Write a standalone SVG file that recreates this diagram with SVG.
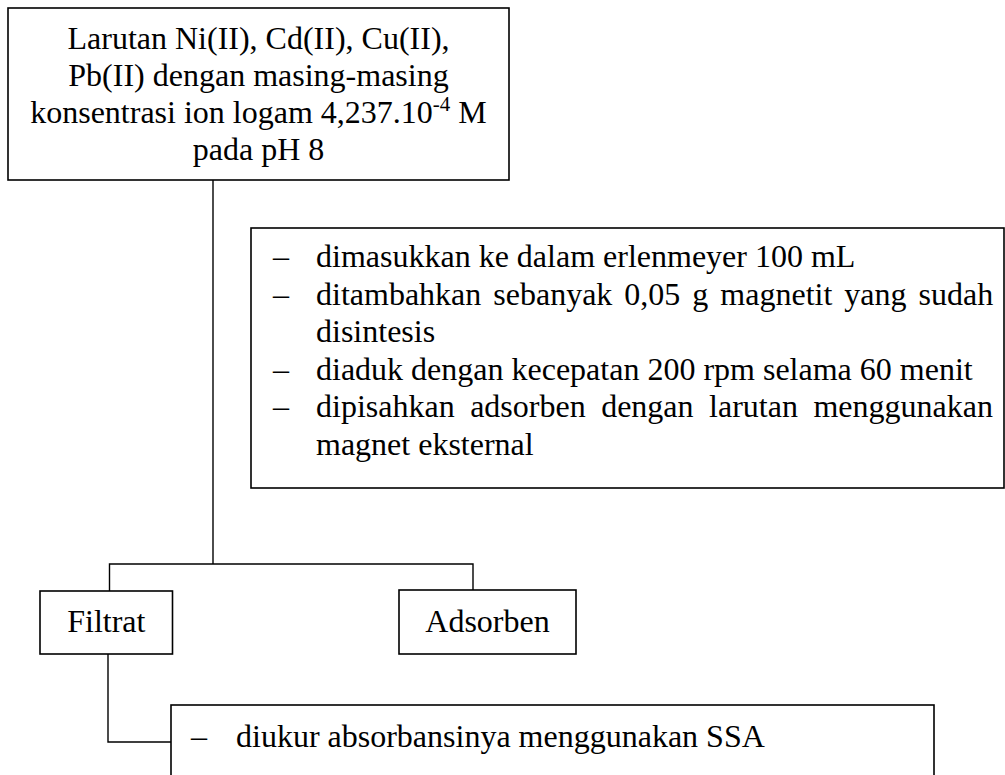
<svg xmlns="http://www.w3.org/2000/svg" width="1005" height="775" viewBox="0 0 1005 775">
  <style>
    .box { fill: #ffffff; stroke: #000000; stroke-width: 1.6; }
    .ln { fill: none; stroke: #000000; stroke-width: 1.4; }
    text { font-family: "Liberation Serif", "Times New Roman", serif; font-size: 32px; fill: #000000; }
    .c { text-anchor: middle; }
  </style>
  <rect width="1005" height="775" fill="#ffffff"/>
  <g id="connectors">
    <polyline class="ln" points="213,180 213,564"/>
    <polyline class="ln" points="109.5,591 109.5,564 473,564 473,590"/>
    <polyline class="ln" points="108,654 108,742 172,742"/>
  </g>
  <g id="node-larutan">
    <rect class="box" x="8" y="8" width="501" height="172"/>
    <text class="c" x="258.5" y="49">Larutan Ni(II), Cd(II), Cu(II),</text>
    <text class="c" x="258.5" y="86">Pb(II) dengan masing-masing</text>
    <text class="c" x="258.5" y="123">konsentrasi ion logam 4,237.10<tspan font-size="21" dy="-12">-4</tspan><tspan dy="12"> M</tspan></text>
    <text class="c" x="258.5" y="160">pada pH 8</text>
  </g>
  <g id="node-steps">
    <rect class="box" x="251" y="228" width="753" height="260"/>
    <text x="273" y="267">–</text>
    <text x="316" y="267">dimasukkan ke dalam erlenmeyer 100 mL</text>
    <text x="273" y="304.6">–</text>
    <text x="316" y="304.6" word-spacing="4">ditambahkan sebanyak 0,05 g magnetit yang sudah</text>
    <text x="316" y="342.2">disintesis</text>
    <text x="273" y="379.8">–</text>
    <text x="316" y="379.8">diaduk dengan kecepatan 200 rpm selama 60 menit</text>
    <text x="273" y="417.4">–</text>
    <text x="316" y="417.4" word-spacing="7.5">dipisahkan adsorben dengan larutan menggunakan</text>
    <text x="316" y="455">magnet eksternal</text>
  </g>
  <g id="node-filtrat">
    <rect class="box" x="40" y="591" width="132.5" height="63"/>
    <text class="c" x="106.3" y="632">Filtrat</text>
  </g>
  <g id="node-adsorben">
    <rect class="box" x="399" y="590" width="177" height="64"/>
    <text class="c" x="487.5" y="632">Adsorben</text>
  </g>
  <g id="node-ssa">
    <rect class="box" x="171" y="705" width="763" height="90"/>
    <text x="191" y="747">–</text>
    <text x="236" y="747">diukur absorbansinya menggunakan SSA</text>
  </g>
</svg>
